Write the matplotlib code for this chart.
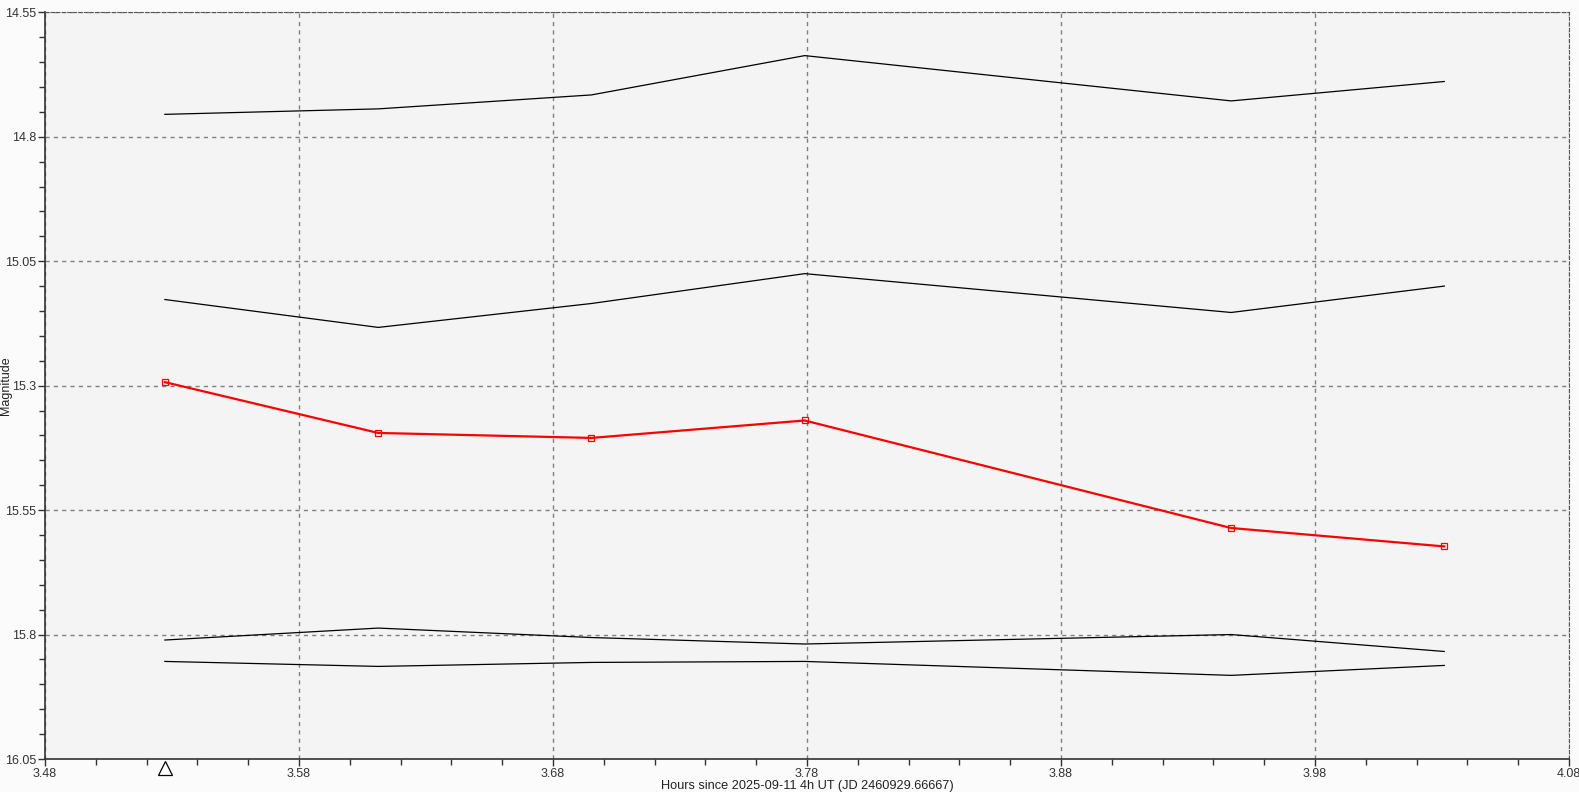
import numpy as np
import matplotlib.pyplot as plt
from matplotlib.ticker import MultipleLocator, FormatStrFormatter

plt.rcParams['font.family'] = ['Liberation Sans', 'DejaVu Sans']

# hours since 2025-09-11 4h UT
hours = [3.5272, 3.6112, 3.6951, 3.7791, 3.9470, 4.0309]

target = [15.293, 15.395, 15.405, 15.370, 15.586, 15.623]
comp1 = [14.755, 14.744, 14.716, 14.637, 14.728, 14.689]
comp2 = [15.127, 15.183, 15.135, 15.075, 15.153, 15.100]
comp3 = [15.811, 15.787, 15.806, 15.819, 15.800, 15.834]
comp4 = [15.854, 15.864, 15.856, 15.854, 15.882, 15.862]

xticks = [3.48, 3.58, 3.68, 3.78, 3.88, 3.98, 4.08]
yticks = [14.55, 14.8, 15.05, 15.3, 15.55, 15.8, 16.05]

fig = plt.figure(figsize=(15.79, 7.92), dpi=100, facecolor='#fbfbfb')
ax = fig.add_axes([45/1579, 1 - 759/792, 1524/1579, 746.7/792])
ax.set_facecolor('#f4f4f4')

for comp in (comp1, comp2, comp3, comp4):
    ax.plot(hours, comp, color='black', linewidth=0.9, zorder=3)
ax.plot(hours, target, color='#ff0000', linewidth=1.6, marker='s', markersize=5,
        markerfacecolor='none', markeredgecolor='#ff0000', markeredgewidth=0.9, zorder=4)

ax.set_xlim(3.48, 4.08)
ax.set_ylim(16.05, 14.55)
ax.set_xticks(xticks)
ax.set_yticks(yticks)
ax.xaxis.set_major_formatter(FormatStrFormatter('%g'))
ax.yaxis.set_major_formatter(FormatStrFormatter('%g'))
ax.xaxis.set_minor_locator(MultipleLocator(0.02))
ax.yaxis.set_minor_locator(MultipleLocator(0.05))
ax.tick_params(which='both', direction='out', colors='#333333', labelsize=9,
               labelcolor='#333333', width=1)
ax.tick_params(which='major', length=5, pad=1.5)
ax.tick_params(which='minor', length=4)
ax.grid(True, which='major', color='#808080', linestyle=(0, (3, 3)), linewidth=1)

for side in ('top', 'right'):
    ax.spines[side].set_color('#555555')
    ax.spines[side].set_linestyle((0, (3, 2)))
for side in ('left', 'bottom'):
    ax.spines[side].set_color('#333333')
    ax.spines[side].set_linewidth(1.2)

ax.set_xlabel('Hours since 2025-09-11 4h UT (JD 2460929.66667)', fontsize=9.2,
              color='#222222', labelpad=0)
ax.set_ylabel('Magnitude', fontsize=9, color='#222222')
ax.yaxis.set_label_coords(-0.0215, 0.5)

# open triangle marking the first observation just below the axis
ax.plot([hours[0]], [-0.012], transform=ax.get_xaxis_transform(), marker='^',
        markersize=10, markerfacecolor='white', markeredgecolor='black',
        markeredgewidth=0.9, linestyle='none', clip_on=False, zorder=5)

fig.savefig('out.png', dpi=100, facecolor=fig.get_facecolor())
